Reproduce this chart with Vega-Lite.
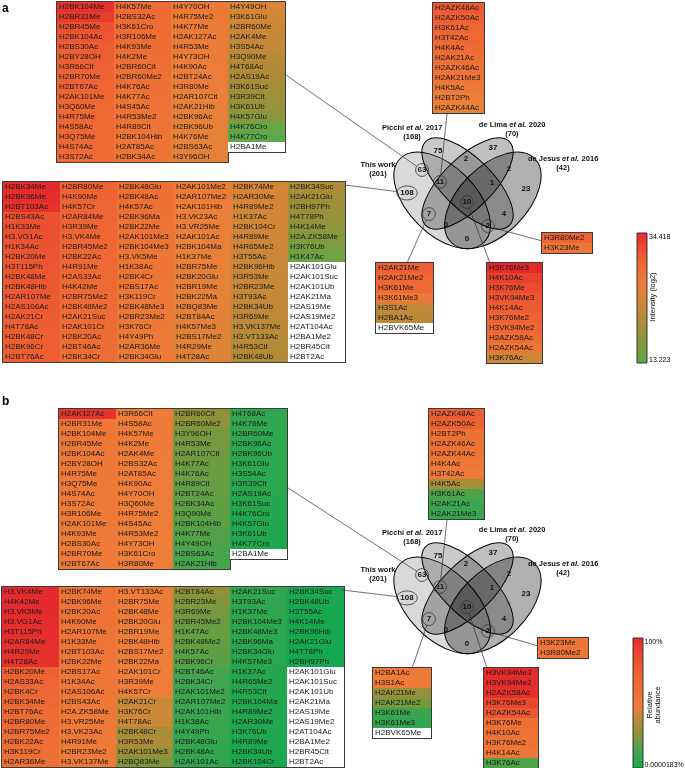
{
"$schema":"https://vega.github.io/schema/vega-lite/v6.json",
"width":685,"height":768,"autosize":"none","padding":0,"background":"white",
"config":{"view":{"stroke":null},"text":{"font":"Liberation Sans"},"legend":{"labelFont":"Liberation Sans","titleFont":"Liberation Sans"}},
"datasets":{
"A":[
{"t":"top","c":0,"r":0,"m":"H2BK104Me","v":33.8},{"t":"top","c":0,"r":1,"m":"H2BR31Me","v":33.2},{"t":"top","c":0,"r":2,"m":"H2BR45Me","v":31.5},{"t":"top","c":0,"r":3,"m":"H2BK104Ac","v":31.0},{"t":"top","c":0,"r":4,"m":"H2BS30Ac","v":30.6},{"t":"top","c":0,"r":5,"m":"H2BY28OH","v":30.3},{"t":"top","c":0,"r":6,"m":"H3R66Cit","v":30.1},{"t":"top","c":0,"r":7,"m":"H2BR70Me","v":29.9},{"t":"top","c":0,"r":8,"m":"H2BT67Ac","v":29.7},{"t":"top","c":0,"r":9,"m":"H2AK101Me","v":29.5},{"t":"top","c":0,"r":10,"m":"H3Q60Me","v":29.4},{"t":"top","c":0,"r":11,"m":"H4R75Me","v":29.3},{"t":"top","c":0,"r":12,"m":"H4S58Ac","v":29.2},{"t":"top","c":0,"r":13,"m":"H3Q75Me","v":29.1},{"t":"top","c":0,"r":14,"m":"H4S74Ac","v":29.0},{"t":"top","c":0,"r":15,"m":"H3S72Ac","v":28.9},
{"t":"top","c":1,"r":0,"m":"H4K57Me","v":28.8},{"t":"top","c":1,"r":1,"m":"H2BS32Ac","v":28.7},{"t":"top","c":1,"r":2,"m":"H3K61Cro","v":28.6},{"t":"top","c":1,"r":3,"m":"H3R106Me","v":28.5},{"t":"top","c":1,"r":4,"m":"H4K93Me","v":28.4},{"t":"top","c":1,"r":5,"m":"H4K2Me","v":28.3},{"t":"top","c":1,"r":6,"m":"H2BR60Cit","v":28.2},{"t":"top","c":1,"r":7,"m":"H2BR60Me2","v":28.1},{"t":"top","c":1,"r":8,"m":"H4K76Ac","v":28.0},{"t":"top","c":1,"r":9,"m":"H4K77Ac","v":27.9},{"t":"top","c":1,"r":10,"m":"H4S45Ac","v":27.8},{"t":"top","c":1,"r":11,"m":"H4R53Me2","v":27.7},{"t":"top","c":1,"r":12,"m":"H4R89Cit","v":27.6},{"t":"top","c":1,"r":13,"m":"H2BK104Hib","v":27.5},{"t":"top","c":1,"r":14,"m":"H2AT85Ac","v":27.4},{"t":"top","c":1,"r":15,"m":"H2BK34Ac","v":27.3},
{"t":"top","c":2,"r":0,"m":"H4Y70OH","v":27.0},{"t":"top","c":2,"r":1,"m":"H4R75Me2","v":26.9},{"t":"top","c":2,"r":2,"m":"H4K77Me","v":26.7},{"t":"top","c":2,"r":3,"m":"H2AK127Ac","v":26.6},{"t":"top","c":2,"r":4,"m":"H4R53Me","v":26.5},{"t":"top","c":2,"r":5,"m":"H4Y73OH","v":26.3},{"t":"top","c":2,"r":6,"m":"H4K90Ac","v":26.2},{"t":"top","c":2,"r":7,"m":"H2BT24Ac","v":26.1},{"t":"top","c":2,"r":8,"m":"H3R80Me","v":25.9},{"t":"top","c":2,"r":9,"m":"H2AR107Cit","v":25.8},{"t":"top","c":2,"r":10,"m":"H2AK21Hib","v":25.7},{"t":"top","c":2,"r":11,"m":"H2BK96Ac","v":25.5},{"t":"top","c":2,"r":12,"m":"H2BK96Ub","v":25.4},{"t":"top","c":2,"r":13,"m":"H4K76Me","v":25.3},{"t":"top","c":2,"r":14,"m":"H2BS63Ac","v":25.1},{"t":"top","c":2,"r":15,"m":"H3Y96OH","v":25.0},
{"t":"top","c":3,"r":0,"m":"H4Y49OH","v":23.8},{"t":"top","c":3,"r":1,"m":"H3K61Glu","v":23.2},{"t":"top","c":3,"r":2,"m":"H2BR60Me","v":22.6},{"t":"top","c":3,"r":3,"m":"H2AK4Me","v":22.0},{"t":"top","c":3,"r":4,"m":"H3S54Ac","v":21.5},{"t":"top","c":3,"r":5,"m":"H3Q90Me","v":21.0},{"t":"top","c":3,"r":6,"m":"H4T68Ac","v":20.4},{"t":"top","c":3,"r":7,"m":"H2AS19Ac","v":19.8},{"t":"top","c":3,"r":8,"m":"H3K61Suc","v":19.2},{"t":"top","c":3,"r":9,"m":"H3R39Cit","v":18.6},{"t":"top","c":3,"r":10,"m":"H3K61Ub","v":17.8},{"t":"top","c":3,"r":11,"m":"H4K57Glu","v":16.8},{"t":"top","c":3,"r":12,"m":"H4K76Cro","v":14.0},{"t":"top","c":3,"r":13,"m":"H4K77Cro","v":13.5},{"t":"top","c":3,"r":14,"m":"H2BA1Me","v":null},
{"t":"ll","c":0,"r":0,"m":"H2BK34Me","v":34.2},{"t":"ll","c":0,"r":1,"m":"H2BK96Me","v":34.0},{"t":"ll","c":0,"r":2,"m":"H2BT103Ac","v":33.8},{"t":"ll","c":0,"r":3,"m":"H2BS43Ac","v":31.6},{"t":"ll","c":0,"r":4,"m":"H1K33Me","v":31.5},{"t":"ll","c":0,"r":5,"m":"H3.VG1Ac","v":31.4},{"t":"ll","c":0,"r":6,"m":"H1K34Ac","v":31.3},{"t":"ll","c":0,"r":7,"m":"H2BK20Me","v":31.2},{"t":"ll","c":0,"r":8,"m":"H3T115Ph","v":31.1},{"t":"ll","c":0,"r":9,"m":"H2BK48Me","v":31.0},{"t":"ll","c":0,"r":10,"m":"H2BK48Hib","v":30.9},{"t":"ll","c":0,"r":11,"m":"H2AR107Me","v":30.8},{"t":"ll","c":0,"r":12,"m":"H2AS106Ac","v":30.7},{"t":"ll","c":0,"r":13,"m":"H2AK21Cr","v":30.6},{"t":"ll","c":0,"r":14,"m":"H4T78Ac","v":30.5},{"t":"ll","c":0,"r":15,"m":"H2BK48Cr","v":30.4},{"t":"ll","c":0,"r":16,"m":"H2BK96Cr","v":30.3},{"t":"ll","c":0,"r":17,"m":"H2BT76Ac","v":30.2},
{"t":"ll","c":1,"r":0,"m":"H2BR80Me","v":30.0},{"t":"ll","c":1,"r":1,"m":"H4K90Me","v":29.9},{"t":"ll","c":1,"r":2,"m":"H4K57Cr","v":29.8},{"t":"ll","c":1,"r":3,"m":"H2AR84Me","v":29.7},{"t":"ll","c":1,"r":4,"m":"H3R39Me","v":29.6},{"t":"ll","c":1,"r":5,"m":"H3.VK4Me","v":29.5},{"t":"ll","c":1,"r":6,"m":"H2BR45Me2","v":29.4},{"t":"ll","c":1,"r":7,"m":"H2BK22Ac","v":29.3},{"t":"ll","c":1,"r":8,"m":"H4R91Me","v":29.2},{"t":"ll","c":1,"r":9,"m":"H2AS33Ac","v":29.1},{"t":"ll","c":1,"r":10,"m":"H4K42Me","v":29.0},{"t":"ll","c":1,"r":11,"m":"H2BR75Me2","v":28.9},{"t":"ll","c":1,"r":12,"m":"H2BK48Me2","v":28.8},{"t":"ll","c":1,"r":13,"m":"H2AK21Suc","v":28.7},{"t":"ll","c":1,"r":14,"m":"H2AK101Cr","v":28.6},{"t":"ll","c":1,"r":15,"m":"H2BK20Ac","v":28.5},{"t":"ll","c":1,"r":16,"m":"H2BT46Ac","v":28.4},{"t":"ll","c":1,"r":17,"m":"H2BK34Cr","v":28.3},
{"t":"ll","c":2,"r":0,"m":"H2BK48Glu","v":28.2},{"t":"ll","c":2,"r":1,"m":"H2BK48Ac","v":28.1},{"t":"ll","c":2,"r":2,"m":"H4K57Ac","v":28.0},{"t":"ll","c":2,"r":3,"m":"H2BK96Ma","v":27.9},{"t":"ll","c":2,"r":4,"m":"H2BK22Me","v":27.8},{"t":"ll","c":2,"r":5,"m":"H2AK101Me3","v":27.7},{"t":"ll","c":2,"r":6,"m":"H2BK104Me3","v":27.6},{"t":"ll","c":2,"r":7,"m":"H3.VK5Me","v":27.5},{"t":"ll","c":2,"r":8,"m":"H1K38Ac","v":27.4},{"t":"ll","c":2,"r":9,"m":"H2BK4Cr","v":27.3},{"t":"ll","c":2,"r":10,"m":"H2BS17Ac","v":27.2},{"t":"ll","c":2,"r":11,"m":"H3K119Cr","v":27.1},{"t":"ll","c":2,"r":12,"m":"H2BK48Me3","v":27.0},{"t":"ll","c":2,"r":13,"m":"H2BR23Me2","v":26.9},{"t":"ll","c":2,"r":14,"m":"H3K76Cr","v":26.8},{"t":"ll","c":2,"r":15,"m":"H4Y49Ph","v":26.7},{"t":"ll","c":2,"r":16,"m":"H2AR36Me","v":26.6},{"t":"ll","c":2,"r":17,"m":"H2BK34Glu","v":26.5},
{"t":"ll","c":3,"r":0,"m":"H2AK101Me2","v":26.4},{"t":"ll","c":3,"r":1,"m":"H2AR107Me2","v":26.3},{"t":"ll","c":3,"r":2,"m":"H2AK101Hib","v":26.2},{"t":"ll","c":3,"r":3,"m":"H3.VK23Ac","v":26.0},{"t":"ll","c":3,"r":4,"m":"H3.VR25Me","v":25.9},{"t":"ll","c":3,"r":5,"m":"H2AK101Ac","v":25.8},{"t":"ll","c":3,"r":6,"m":"H2BK104Ma","v":25.7},{"t":"ll","c":3,"r":7,"m":"H1K37Me","v":25.6},{"t":"ll","c":3,"r":8,"m":"H2BR75Me","v":25.5},{"t":"ll","c":3,"r":9,"m":"H2BK20Glu","v":25.3},{"t":"ll","c":3,"r":10,"m":"H2BR19Me","v":25.2},{"t":"ll","c":3,"r":11,"m":"H2BK22Ma","v":25.1},{"t":"ll","c":3,"r":12,"m":"H2BQ83Me","v":25.0},{"t":"ll","c":3,"r":13,"m":"H2BT84Ac","v":24.9},{"t":"ll","c":3,"r":14,"m":"H4K57Me3","v":24.8},{"t":"ll","c":3,"r":15,"m":"H2BS17Me2","v":24.7},{"t":"ll","c":3,"r":16,"m":"H4R29Me","v":24.6},{"t":"ll","c":3,"r":17,"m":"H4T28Ac","v":24.5},
{"t":"ll","c":4,"r":0,"m":"H2BK74Me","v":23.8},{"t":"ll","c":4,"r":1,"m":"H2AR30Me","v":23.6},{"t":"ll","c":4,"r":2,"m":"H4R89Me2","v":23.4},{"t":"ll","c":4,"r":3,"m":"H1K37Ac","v":23.2},{"t":"ll","c":4,"r":4,"m":"H2BK104Cr","v":23.0},{"t":"ll","c":4,"r":5,"m":"H4R89Me","v":22.8},{"t":"ll","c":4,"r":6,"m":"H4R65Me2","v":22.6},{"t":"ll","c":4,"r":7,"m":"H3T55Ac","v":22.4},{"t":"ll","c":4,"r":8,"m":"H2BK96Hib","v":22.2},{"t":"ll","c":4,"r":9,"m":"H3R53Me","v":22.0},{"t":"ll","c":4,"r":10,"m":"H2BR23Me","v":21.8},{"t":"ll","c":4,"r":11,"m":"H3T93Ac","v":21.6},{"t":"ll","c":4,"r":12,"m":"H2BK34Ub","v":21.4},{"t":"ll","c":4,"r":13,"m":"H3R69Me","v":21.2},{"t":"ll","c":4,"r":14,"m":"H3.VK137Me","v":21.0},{"t":"ll","c":4,"r":15,"m":"H3.VT133Ac","v":20.8},{"t":"ll","c":4,"r":16,"m":"H4R53Cit","v":20.6},{"t":"ll","c":4,"r":17,"m":"H2BK48Ub","v":20.4},
{"t":"ll","c":5,"r":0,"m":"H2BK34Suc","v":19.8},{"t":"ll","c":5,"r":1,"m":"H2AK21Glu","v":19.2},{"t":"ll","c":5,"r":2,"m":"H2BH97Ph","v":18.5},{"t":"ll","c":5,"r":3,"m":"H4T78Ph","v":17.8},{"t":"ll","c":5,"r":4,"m":"H4K14Me","v":17.0},{"t":"ll","c":5,"r":5,"m":"H2A.ZK58Me","v":16.2},{"t":"ll","c":5,"r":6,"m":"H3K76Ub","v":15.4},{"t":"ll","c":5,"r":7,"m":"H1K47Ac","v":14.6},{"t":"ll","c":5,"r":8,"m":"H2AK101Glu","v":null},{"t":"ll","c":5,"r":9,"m":"H2AK101Suc","v":null},{"t":"ll","c":5,"r":10,"m":"H2AK101Ub","v":null},{"t":"ll","c":5,"r":11,"m":"H2AK21Ma","v":null},{"t":"ll","c":5,"r":12,"m":"H2AS19Me","v":null},{"t":"ll","c":5,"r":13,"m":"H2AS19Me2","v":null},{"t":"ll","c":5,"r":14,"m":"H2AT104Ac","v":null},{"t":"ll","c":5,"r":15,"m":"H2BA1Me2","v":null},{"t":"ll","c":5,"r":16,"m":"H2BR45Cit","v":null},{"t":"ll","c":5,"r":17,"m":"H2BT2Ac","v":null},
{"t":"rt","c":0,"r":0,"m":"H2AZK48Ac","v":30.8},{"t":"rt","c":0,"r":1,"m":"H2AZK50Ac","v":30.3},{"t":"rt","c":0,"r":2,"m":"H3K61Ac","v":29.8},{"t":"rt","c":0,"r":3,"m":"H3T42Ac","v":29.3},{"t":"rt","c":0,"r":4,"m":"H4K4Ac","v":28.8},{"t":"rt","c":0,"r":5,"m":"H2AK21Ac","v":28.3},{"t":"rt","c":0,"r":6,"m":"H2AZK46Ac","v":27.8},{"t":"rt","c":0,"r":7,"m":"H2AK21Me3","v":27.3},{"t":"rt","c":0,"r":8,"m":"H4K5Ac","v":26.8},{"t":"rt","c":0,"r":9,"m":"H2BT2Ph","v":26.2},{"t":"rt","c":0,"r":10,"m":"H2AZK44Ac","v":25.5},
{"t":"s7","c":0,"r":0,"m":"H2AK21Me","v":30.2},{"t":"s7","c":0,"r":1,"m":"H2AK21Me2","v":29.3},{"t":"s7","c":0,"r":2,"m":"H3K61Me","v":29.0},{"t":"s7","c":0,"r":3,"m":"H3K61Me3","v":27.0},{"t":"s7","c":0,"r":4,"m":"H3S1Ac","v":21.5},{"t":"s7","c":0,"r":5,"m":"H2BA1Ac","v":21.0},{"t":"s7","c":0,"r":6,"m":"H2BVK65Me","v":null},
{"t":"s10","c":0,"r":0,"m":"H3K76Me3","v":34.3},{"t":"s10","c":0,"r":1,"m":"H4K10Ac","v":32.8},{"t":"s10","c":0,"r":2,"m":"H3K76Me","v":32.0},{"t":"s10","c":0,"r":3,"m":"H3VK94Me3","v":31.2},{"t":"s10","c":0,"r":4,"m":"H4K14Ac","v":30.6},{"t":"s10","c":0,"r":5,"m":"H3K76Me2","v":30.0},{"t":"s10","c":0,"r":6,"m":"H3VK94Me2","v":29.2},{"t":"s10","c":0,"r":7,"m":"H2AZK58Ac","v":28.4},{"t":"s10","c":0,"r":8,"m":"H2AZK54Ac","v":27.5},{"t":"s10","c":0,"r":9,"m":"H3K76Ac","v":22.5},
{"t":"s2","c":0,"r":0,"m":"H3R80Me2","v":29.8},{"t":"s2","c":0,"r":1,"m":"H3K23Me","v":27.0}
],
"B":[
{"t":"top","c":0,"r":0,"m":"H2AK127Ac","v":50},{"t":"top","c":0,"r":1,"m":"H2BR31Me","v":0.08},{"t":"top","c":0,"r":2,"m":"H2BK104Me","v":0.075},{"t":"top","c":0,"r":3,"m":"H2BR45Me","v":0.07},{"t":"top","c":0,"r":4,"m":"H2BK104Ac","v":0.067},{"t":"top","c":0,"r":5,"m":"H2BY28OH","v":0.064},{"t":"top","c":0,"r":6,"m":"H4R75Me","v":0.061},{"t":"top","c":0,"r":7,"m":"H3Q75Me","v":0.058},{"t":"top","c":0,"r":8,"m":"H4S74Ac","v":0.056},{"t":"top","c":0,"r":9,"m":"H3S72Ac","v":0.054},{"t":"top","c":0,"r":10,"m":"H3R106Me","v":0.052},{"t":"top","c":0,"r":11,"m":"H2AK101Me","v":0.05},{"t":"top","c":0,"r":12,"m":"H4K93Me","v":0.048},{"t":"top","c":0,"r":13,"m":"H2BS30Ac","v":0.046},{"t":"top","c":0,"r":14,"m":"H2BR70Me","v":0.044},{"t":"top","c":0,"r":15,"m":"H2BT67Ac","v":0.042},
{"t":"top","c":1,"r":0,"m":"H3R66Cit","v":0.041},{"t":"top","c":1,"r":1,"m":"H4S58Ac","v":0.040},{"t":"top","c":1,"r":2,"m":"H4K57Me","v":0.039},{"t":"top","c":1,"r":3,"m":"H4K2Me","v":0.038},{"t":"top","c":1,"r":4,"m":"H2AK4Me","v":0.037},{"t":"top","c":1,"r":5,"m":"H2BS32Ac","v":0.036},{"t":"top","c":1,"r":6,"m":"H2AT85Ac","v":0.035},{"t":"top","c":1,"r":7,"m":"H4K90Ac","v":0.0345},{"t":"top","c":1,"r":8,"m":"H4Y70OH","v":0.034},{"t":"top","c":1,"r":9,"m":"H3Q60Me","v":0.0335},{"t":"top","c":1,"r":10,"m":"H4R75Me2","v":0.033},{"t":"top","c":1,"r":11,"m":"H4S45Ac","v":0.0325},{"t":"top","c":1,"r":12,"m":"H4R53Me2","v":0.032},{"t":"top","c":1,"r":13,"m":"H4Y73OH","v":0.0315},{"t":"top","c":1,"r":14,"m":"H3K61Cro","v":0.031},{"t":"top","c":1,"r":15,"m":"H3R80Me","v":0.0305},
{"t":"top","c":2,"r":0,"m":"H2BR60Cit","v":0.0013},{"t":"top","c":2,"r":1,"m":"H2BR60Me2","v":0.0011},{"t":"top","c":2,"r":2,"m":"H3Y96OH","v":0.0006},{"t":"top","c":2,"r":3,"m":"H4R53Me","v":0.00055},{"t":"top","c":2,"r":4,"m":"H2AR107Cit","v":0.0005},{"t":"top","c":2,"r":5,"m":"H4K77Ac","v":0.00045},{"t":"top","c":2,"r":6,"m":"H4K76Ac","v":0.0004},{"t":"top","c":2,"r":7,"m":"H4R89Cit","v":0.00032},{"t":"top","c":2,"r":8,"m":"H2BT24Ac","v":0.00028},{"t":"top","c":2,"r":9,"m":"H2BK34Ac","v":0.00025},{"t":"top","c":2,"r":10,"m":"H3Q90Me","v":0.00022},{"t":"top","c":2,"r":11,"m":"H2BK104Hib","v":0.0002},{"t":"top","c":2,"r":12,"m":"H4K77Me","v":0.00017},{"t":"top","c":2,"r":13,"m":"H4Y49OH","v":0.00015},{"t":"top","c":2,"r":14,"m":"H2BS63Ac","v":0.00013},{"t":"top","c":2,"r":15,"m":"H2AK21Hib","v":0.00012},
{"t":"top","c":3,"r":0,"m":"H4T68Ac","v":0.00005},{"t":"top","c":3,"r":1,"m":"H4K76Me","v":0.000048},{"t":"top","c":3,"r":2,"m":"H2BR60Me","v":0.000046},{"t":"top","c":3,"r":3,"m":"H2BK96Ac","v":0.000044},{"t":"top","c":3,"r":4,"m":"H2BK96Ub","v":0.000042},{"t":"top","c":3,"r":5,"m":"H3K61Glu","v":0.00004},{"t":"top","c":3,"r":6,"m":"H3S54Ac","v":0.000038},{"t":"top","c":3,"r":7,"m":"H3R39Cit","v":0.000036},{"t":"top","c":3,"r":8,"m":"H2AS19Ac","v":0.000034},{"t":"top","c":3,"r":9,"m":"H3K61Suc","v":0.000032},{"t":"top","c":3,"r":10,"m":"H4K76Cro","v":0.00003},{"t":"top","c":3,"r":11,"m":"H4K57Glu","v":0.000028},{"t":"top","c":3,"r":12,"m":"H3K61Ub","v":0.000026},{"t":"top","c":3,"r":13,"m":"H4K77Cro","v":0.000024},{"t":"top","c":3,"r":14,"m":"H2BA1Me","v":null},
{"t":"ll","c":0,"r":0,"m":"H3.VK4Me","v":95},{"t":"ll","c":0,"r":1,"m":"H4K42Me","v":90},{"t":"ll","c":0,"r":2,"m":"H3.VK5Me","v":85},{"t":"ll","c":0,"r":3,"m":"H3.VG1Ac","v":80},{"t":"ll","c":0,"r":4,"m":"H3T115Ph","v":75},{"t":"ll","c":0,"r":5,"m":"H2AR84Me","v":70},{"t":"ll","c":0,"r":6,"m":"H4R29Me","v":65},{"t":"ll","c":0,"r":7,"m":"H4T28Ac","v":60},{"t":"ll","c":0,"r":8,"m":"H2BK20Me","v":1.2},{"t":"ll","c":0,"r":9,"m":"H2AS33Ac","v":0.8},{"t":"ll","c":0,"r":10,"m":"H2BK4Cr","v":0.6},{"t":"ll","c":0,"r":11,"m":"H2BK34Me","v":0.5},{"t":"ll","c":0,"r":12,"m":"H2BT76Ac","v":0.4},{"t":"ll","c":0,"r":13,"m":"H2BR80Me","v":0.33},{"t":"ll","c":0,"r":14,"m":"H2BR75Me2","v":0.28},{"t":"ll","c":0,"r":15,"m":"H2BK22Ac","v":0.24},{"t":"ll","c":0,"r":16,"m":"H3K119Cr","v":0.2},{"t":"ll","c":0,"r":17,"m":"H2AR36Me","v":0.17},
{"t":"ll","c":1,"r":0,"m":"H2BK74Me","v":0.15},{"t":"ll","c":1,"r":1,"m":"H2BK96Me","v":0.14},{"t":"ll","c":1,"r":2,"m":"H2BK20Ac","v":0.13},{"t":"ll","c":1,"r":3,"m":"H4K90Me","v":0.12},{"t":"ll","c":1,"r":4,"m":"H2AR107Me","v":0.11},{"t":"ll","c":1,"r":5,"m":"H1K33Me","v":0.1},{"t":"ll","c":1,"r":6,"m":"H2BT103Ac","v":0.095},{"t":"ll","c":1,"r":7,"m":"H2BK22Me","v":0.09},{"t":"ll","c":1,"r":8,"m":"H2BS17Ac","v":0.085},{"t":"ll","c":1,"r":9,"m":"H1K34Ac","v":0.08},{"t":"ll","c":1,"r":10,"m":"H2AS106Ac","v":0.075},{"t":"ll","c":1,"r":11,"m":"H2BS43Ac","v":0.07},{"t":"ll","c":1,"r":12,"m":"H2A.ZK58Me","v":0.065},{"t":"ll","c":1,"r":13,"m":"H3.VR25Me","v":0.06},{"t":"ll","c":1,"r":14,"m":"H3.VK23Ac","v":0.056},{"t":"ll","c":1,"r":15,"m":"H4R91Me","v":0.052},{"t":"ll","c":1,"r":16,"m":"H2BR23Me2","v":0.048},{"t":"ll","c":1,"r":17,"m":"H3.VK137Me","v":0.045},
{"t":"ll","c":2,"r":0,"m":"H3.VT133Ac","v":0.043},{"t":"ll","c":2,"r":1,"m":"H2BR75Me","v":0.041},{"t":"ll","c":2,"r":2,"m":"H2BK48Me","v":0.039},{"t":"ll","c":2,"r":3,"m":"H2BK20Glu","v":0.037},{"t":"ll","c":2,"r":4,"m":"H2BR19Me","v":0.035},{"t":"ll","c":2,"r":5,"m":"H2BK48Hib","v":0.034},{"t":"ll","c":2,"r":6,"m":"H2BS17Me2","v":0.033},{"t":"ll","c":2,"r":7,"m":"H2BK22Ma","v":0.032},{"t":"ll","c":2,"r":8,"m":"H2AK101Cr","v":0.031},{"t":"ll","c":2,"r":9,"m":"H3R39Me","v":0.0305},{"t":"ll","c":2,"r":10,"m":"H4K57Cr","v":0.03},{"t":"ll","c":2,"r":11,"m":"H2AK21Cr","v":0.008},{"t":"ll","c":2,"r":12,"m":"H3K76Cr","v":0.01},{"t":"ll","c":2,"r":13,"m":"H4T78Ac","v":0.0095},{"t":"ll","c":2,"r":14,"m":"H2BK48Cr","v":0.003},{"t":"ll","c":2,"r":15,"m":"H3R53Me","v":0.004},{"t":"ll","c":2,"r":16,"m":"H2AK101Me3","v":0.0018},{"t":"ll","c":2,"r":17,"m":"H2BQ83Me","v":0.0009},
{"t":"ll","c":3,"r":0,"m":"H2BT84Ac","v":0.0012},{"t":"ll","c":3,"r":1,"m":"H2BR23Me","v":0.0008},{"t":"ll","c":3,"r":2,"m":"H3R69Me","v":0.0006},{"t":"ll","c":3,"r":3,"m":"H2BR45Me2","v":0.00045},{"t":"ll","c":3,"r":4,"m":"H1K47Ac","v":0.00035},{"t":"ll","c":3,"r":5,"m":"H2BK48Me2","v":0.0003},{"t":"ll","c":3,"r":6,"m":"H4K57Ac","v":0.00025},{"t":"ll","c":3,"r":7,"m":"H2BK96Cr","v":0.00022},{"t":"ll","c":3,"r":8,"m":"H2BT46Ac","v":0.00012},{"t":"ll","c":3,"r":9,"m":"H2BK34Cr","v":0.00011},{"t":"ll","c":3,"r":10,"m":"H2AK101Me2","v":0.0001},{"t":"ll","c":3,"r":11,"m":"H2AR107Me2","v":0.00009},{"t":"ll","c":3,"r":12,"m":"H2AK101Hib","v":0.00008},{"t":"ll","c":3,"r":13,"m":"H1K38Ac","v":0.00007},{"t":"ll","c":3,"r":14,"m":"H4Y49Ph","v":0.000065},{"t":"ll","c":3,"r":15,"m":"H2BK48Glu","v":0.00006},{"t":"ll","c":3,"r":16,"m":"H2BK48Ac","v":0.000055},{"t":"ll","c":3,"r":17,"m":"H2AK101Ac","v":0.00005},
{"t":"ll","c":4,"r":0,"m":"H2AK21Suc","v":0.000048},{"t":"ll","c":4,"r":1,"m":"H3T93Ac","v":0.000046},{"t":"ll","c":4,"r":2,"m":"H1K37Me","v":0.000044},{"t":"ll","c":4,"r":3,"m":"H2BK104Me3","v":0.000042},{"t":"ll","c":4,"r":4,"m":"H2BK48Me3","v":0.00004},{"t":"ll","c":4,"r":5,"m":"H2BK96Ma","v":0.000038},{"t":"ll","c":4,"r":6,"m":"H2BK34Glu","v":0.000036},{"t":"ll","c":4,"r":7,"m":"H4K57Me3","v":0.000034},{"t":"ll","c":4,"r":8,"m":"H1K37Ac","v":0.000032},{"t":"ll","c":4,"r":9,"m":"H4R65Me2","v":0.00003},{"t":"ll","c":4,"r":10,"m":"H4R53Cit","v":0.000029},{"t":"ll","c":4,"r":11,"m":"H2BK104Ma","v":0.000028},{"t":"ll","c":4,"r":12,"m":"H4R89Me2","v":0.000027},{"t":"ll","c":4,"r":13,"m":"H2AR30Me","v":0.000026},{"t":"ll","c":4,"r":14,"m":"H3K76Ub","v":0.000025},{"t":"ll","c":4,"r":15,"m":"H4R89Me","v":0.000024},{"t":"ll","c":4,"r":16,"m":"H2BK34Ub","v":0.000023},{"t":"ll","c":4,"r":17,"m":"H2BK104Cr","v":0.000022},
{"t":"ll","c":5,"r":0,"m":"H2BK34Suc","v":0.000021},{"t":"ll","c":5,"r":1,"m":"H2BK48Ub","v":0.0000205},{"t":"ll","c":5,"r":2,"m":"H3T55Ac","v":0.00002},{"t":"ll","c":5,"r":3,"m":"H4K14Me","v":0.0000198},{"t":"ll","c":5,"r":4,"m":"H2BK96Hib","v":0.0000195},{"t":"ll","c":5,"r":5,"m":"H2AK21Glu","v":0.0000192},{"t":"ll","c":5,"r":6,"m":"H4T78Ph","v":0.000019},{"t":"ll","c":5,"r":7,"m":"H2BH97Ph","v":0.0000185},{"t":"ll","c":5,"r":8,"m":"H2AK101Glu","v":null},{"t":"ll","c":5,"r":9,"m":"H2AK101Suc","v":null},{"t":"ll","c":5,"r":10,"m":"H2AK101Ub","v":null},{"t":"ll","c":5,"r":11,"m":"H2AK21Ma","v":null},{"t":"ll","c":5,"r":12,"m":"H2AS19Me","v":null},{"t":"ll","c":5,"r":13,"m":"H2AS19Me2","v":null},{"t":"ll","c":5,"r":14,"m":"H2AT104Ac","v":null},{"t":"ll","c":5,"r":15,"m":"H2BA1Me2","v":null},{"t":"ll","c":5,"r":16,"m":"H2BR45Cit","v":null},{"t":"ll","c":5,"r":17,"m":"H2BT2Ac","v":null},
{"t":"rt","c":0,"r":0,"m":"H2AZK48Ac","v":2.0},{"t":"rt","c":0,"r":1,"m":"H2AZK50Ac","v":1.2},{"t":"rt","c":0,"r":2,"m":"H2BT2Ph","v":0.2},{"t":"rt","c":0,"r":3,"m":"H2AZK46Ac","v":0.15},{"t":"rt","c":0,"r":4,"m":"H2AZK44Ac","v":0.12},{"t":"rt","c":0,"r":5,"m":"H4K4Ac","v":0.09},{"t":"rt","c":0,"r":6,"m":"H3T42Ac","v":0.06},{"t":"rt","c":0,"r":7,"m":"H4K5Ac","v":0.003},{"t":"rt","c":0,"r":8,"m":"H3K61Ac","v":0.00015},{"t":"rt","c":0,"r":9,"m":"H2AK21Ac","v":0.00009},{"t":"rt","c":0,"r":10,"m":"H2AK21Me3","v":0.00007},
{"t":"s7","c":0,"r":0,"m":"H2BA1Ac","v":0.06},{"t":"s7","c":0,"r":1,"m":"H3S1Ac","v":0.05},{"t":"s7","c":0,"r":2,"m":"H2AK21Me","v":0.0015},{"t":"s7","c":0,"r":3,"m":"H2AK21Me2","v":0.0006},{"t":"s7","c":0,"r":4,"m":"H3K61Me","v":0.00008},{"t":"s7","c":0,"r":5,"m":"H3K61Me3","v":0.00005},{"t":"s7","c":0,"r":6,"m":"H2BVK65Me","v":null},
{"t":"s10","c":0,"r":0,"m":"H3VK94Me3","v":95},{"t":"s10","c":0,"r":1,"m":"H3VK94Me2","v":85},{"t":"s10","c":0,"r":2,"m":"H2AZK58Ac","v":70},{"t":"s10","c":0,"r":3,"m":"H3K76Me3","v":15},{"t":"s10","c":0,"r":4,"m":"H2AZK54Ac","v":4},{"t":"s10","c":0,"r":5,"m":"H3K76Me","v":0.2},{"t":"s10","c":0,"r":6,"m":"H4K10Ac","v":0.15},{"t":"s10","c":0,"r":7,"m":"H3K76Me2","v":0.12},{"t":"s10","c":0,"r":8,"m":"H4K14Ac","v":0.08},{"t":"s10","c":0,"r":9,"m":"H3K76Ac","v":0.00015},
{"t":"s2","c":0,"r":0,"m":"H3K23Me","v":0.1},{"t":"s2","c":0,"r":1,"m":"H3R80Me2","v":0.08}
],
"sets":[{"s":"This work","u":0.35,"v":0.53},{"s":"Picchi","u":0.5,"v":0.43},{"s":"de Lima","u":0.5,"v":0.43},{"s":"de Jesus","u":0.65,"v":0.53}],
"nums":[{"n":"75","u":0.325,"v":0.238,"k":false},{"n":"37","u":0.651,"v":0.22,"k":false},{"n":"2","u":0.491,"v":0.285,"k":false},{"n":"2","u":0.746,"v":0.344,"k":false},{"n":"63","u":0.231,"v":0.35,"k":true},{"n":"11","u":0.337,"v":0.421,"k":true},{"n":"1","u":0.645,"v":0.427,"k":false},{"n":"23","u":0.846,"v":0.463,"k":false},{"n":"108","u":0.142,"v":0.486,"k":true},{"n":"10","u":0.497,"v":0.54,"k":true},{"n":"7","u":0.272,"v":0.611,"k":true},{"n":"4","u":0.716,"v":0.611,"k":false},{"n":"0","u":0.373,"v":0.676,"k":false},{"n":"2","u":0.621,"v":0.682,"k":true},{"n":"0","u":0.497,"v":0.758,"k":false}],
"titles":[{"name":"This work","etal":"","year":"","cnt":"(201)","ua":0.074,"uc":-0.03,"v":0.321,"vc":0.374},{"name":"Picchi","etal":"et al.","year":"2017","cnt":"(168)","ua":0.125,"uc":0.172,"v":0.102,"vc":0.155},{"name":"de Lima","etal":"et al.","year":"2020","cnt":"(70)","ua":0.735,"uc":0.763,"v":0.084,"vc":0.138},{"name":"de Jesus","etal":"et al.","year":"2016","cnt":"(42)","ua":1.048,"uc":1.065,"v":0.285,"vc":0.339}],
"linesA":[{"u":-0.574,"v":-0.212,"u2":0.199,"v2":0.328},{"u":0.379,"v":0.013,"u2":0.341,"v2":0.383},{"u":-0.225,"v":0.439,"u2":0.083,"v2":0.478},{"u":0.256,"v":0.646,"u2":0.142,"v2":0.901},{"u":0.511,"v":0.576,"u2":0.633,"v2":0.901},{"u":0.658,"v":0.694,"u2":0.941,"v2":0.77}],
"linesB":[{"u":-0.562,"v":-0.165,"u2":0.199,"v2":0.328},{"u":0.379,"v":0.019,"u2":0.341,"v2":0.383},{"u":-0.243,"v":0.439,"u2":0.083,"v2":0.478},{"u":0.26,"v":0.647,"u2":0.172,"v2":0.901},{"u":0.509,"v":0.576,"u2":0.615,"v2":0.901},{"u":0.658,"v":0.694,"u2":0.917,"v2":0.77}]
},
"layer":[
{"data":{"name":"A"},
 "encoding":{"fill":{"field":"v","type":"quantitative","scale":{"domain":[13.223,16,19,22,26,30,34.418],"range":["#57ab4e","#7f9a40","#a28d3a","#c8883a","#ec7f39","#ee6234","#e4262b"],"zero":false,"nice":false,"clamp":true},
   "legend":{"orient":"none","legendX":637,"legendY":233,"direction":"vertical","gradientLength":130,"gradientThickness":10,"values":[13.223,34.418],"format":".3f","title":null,"labelFontSize":7,"labelOffset":2,"gradientStrokeColor":"#333333","gradientStrokeWidth":1,"padding":0}}},
 "resolve":{"scale":{"x":"independent","y":"independent"}},
 "layer":[
  {"transform":[{"filter":"datum.t=='top'"}],
   "encoding":{"x":{"field":"c","type":"ordinal","axis":null,"scale":{"domain":[0,1,2,3],"range":[57,285],"paddingInner":0,"paddingOuter":0}},"y":{"field":"r","type":"ordinal","axis":null,"scale":{"domain":[0,1,2,3,4,5,6,7,8,9,10,11,12,13,14,15],"range":[2,162],"paddingInner":0,"paddingOuter":0}}},
   "layer":[
    {"mark":{"type":"rect","stroke":"#3a3a3a","strokeWidth":2},"encoding":{"fill":{"value":"white"}}},
    {"mark":{"type":"rect"},"encoding":{"fill":{"value":"white"}}},
    {"transform":[{"filter":"isValid(datum.v)"}],"mark":{"type":"rect"}},
    {"mark":{"type":"text","align":"left","baseline":"middle","dx":2,"fontSize":8},"encoding":{"text":{"field":"m"},"fill":{"value":"#1a1a1a"},"x":{"field":"c","type":"ordinal","bandPosition":0,"axis":null}}}]},
  {"transform":[{"filter":"datum.t=='ll'"}],
   "encoding":{"x":{"field":"c","type":"ordinal","axis":null,"scale":{"domain":[0,1,2,3,4,5],"range":[3,345],"paddingInner":0,"paddingOuter":0}},"y":{"field":"r","type":"ordinal","axis":null,"scale":{"domain":[0,1,2,3,4,5,6,7,8,9,10,11,12,13,14,15,16,17],"range":[182,362],"paddingInner":0,"paddingOuter":0}}},
   "layer":[
    {"mark":{"type":"rect","stroke":"#3a3a3a","strokeWidth":2},"encoding":{"fill":{"value":"white"}}},
    {"mark":{"type":"rect"},"encoding":{"fill":{"value":"white"}}},
    {"transform":[{"filter":"isValid(datum.v)"}],"mark":{"type":"rect"}},
    {"mark":{"type":"text","align":"left","baseline":"middle","dx":2,"fontSize":8},"encoding":{"text":{"field":"m"},"fill":{"value":"#1a1a1a"},"x":{"field":"c","type":"ordinal","bandPosition":0,"axis":null}}}]},
  {"transform":[{"filter":"datum.t=='rt'"}],
   "encoding":{"x":{"field":"c","type":"ordinal","axis":null,"scale":{"domain":[0],"range":[433,484],"paddingInner":0,"paddingOuter":0}},"y":{"field":"r","type":"ordinal","axis":null,"scale":{"domain":[0,1,2,3,4,5,6,7,8,9,10],"range":[3,113],"paddingInner":0,"paddingOuter":0}}},
   "layer":[
    {"mark":{"type":"rect","stroke":"#3a3a3a","strokeWidth":2},"encoding":{"fill":{"value":"white"}}},
    {"mark":{"type":"rect"},"encoding":{"fill":{"value":"white"}}},
    {"transform":[{"filter":"isValid(datum.v)"}],"mark":{"type":"rect"}},
    {"mark":{"type":"text","align":"left","baseline":"middle","dx":2,"fontSize":8},"encoding":{"text":{"field":"m"},"fill":{"value":"#1a1a1a"},"x":{"field":"c","type":"ordinal","bandPosition":0,"axis":null}}}]},
  {"transform":[{"filter":"datum.t=='s7'"}],
   "encoding":{"x":{"field":"c","type":"ordinal","axis":null,"scale":{"domain":[0],"range":[376,433],"paddingInner":0,"paddingOuter":0}},"y":{"field":"r","type":"ordinal","axis":null,"scale":{"domain":[0,1,2,3,4,5,6],"range":[263,333],"paddingInner":0,"paddingOuter":0}}},
   "layer":[
    {"mark":{"type":"rect","stroke":"#3a3a3a","strokeWidth":2},"encoding":{"fill":{"value":"white"}}},
    {"mark":{"type":"rect"},"encoding":{"fill":{"value":"white"}}},
    {"transform":[{"filter":"isValid(datum.v)"}],"mark":{"type":"rect"}},
    {"mark":{"type":"text","align":"left","baseline":"middle","dx":2,"fontSize":8},"encoding":{"text":{"field":"m"},"fill":{"value":"#1a1a1a"},"x":{"field":"c","type":"ordinal","bandPosition":0,"axis":null}}}]},
  {"transform":[{"filter":"datum.t=='s10'"}],
   "encoding":{"x":{"field":"c","type":"ordinal","axis":null,"scale":{"domain":[0],"range":[487,542],"paddingInner":0,"paddingOuter":0}},"y":{"field":"r","type":"ordinal","axis":null,"scale":{"domain":[0,1,2,3,4,5,6,7,8,9],"range":[263,363],"paddingInner":0,"paddingOuter":0}}},
   "layer":[
    {"mark":{"type":"rect","stroke":"#3a3a3a","strokeWidth":2},"encoding":{"fill":{"value":"white"}}},
    {"mark":{"type":"rect"},"encoding":{"fill":{"value":"white"}}},
    {"transform":[{"filter":"isValid(datum.v)"}],"mark":{"type":"rect"}},
    {"mark":{"type":"text","align":"left","baseline":"middle","dx":2,"fontSize":8},"encoding":{"text":{"field":"m"},"fill":{"value":"#1a1a1a"},"x":{"field":"c","type":"ordinal","bandPosition":0,"axis":null}}}]},
  {"transform":[{"filter":"datum.t=='s2'"}],
   "encoding":{"x":{"field":"c","type":"ordinal","axis":null,"scale":{"domain":[0],"range":[542,592],"paddingInner":0,"paddingOuter":0}},"y":{"field":"r","type":"ordinal","axis":null,"scale":{"domain":[0,1],"range":[233,253],"paddingInner":0,"paddingOuter":0}}},
   "layer":[
    {"mark":{"type":"rect","stroke":"#3a3a3a","strokeWidth":2},"encoding":{"fill":{"value":"white"}}},
    {"mark":{"type":"rect"},"encoding":{"fill":{"value":"white"}}},
    {"transform":[{"filter":"isValid(datum.v)"}],"mark":{"type":"rect"}},
    {"mark":{"type":"text","align":"left","baseline":"middle","dx":2,"fontSize":8},"encoding":{"text":{"field":"m"},"fill":{"value":"#1a1a1a"},"x":{"field":"c","type":"ordinal","bandPosition":0,"axis":null}}}]}
 ]},
{"data":{"name":"B"},
 "encoding":{"fill":{"field":"v","type":"quantitative","scale":{"type":"log","domain":[0.0000183,0.0001,0.0005,0.002,0.008,0.03,3,100],"range":["#12a84f","#3da54f","#6f9a42","#9d8e3b","#c5893a","#ee7e39","#ec5a33","#e5292d"],"nice":false,"clamp":true},
   "legend":{"orient":"none","legendX":633,"legendY":638,"direction":"vertical","gradientLength":130,"gradientThickness":10,"values":[0.0000183,100],"labelExpr":"datum.value > 1 ? '100%' : '0.0000183%'","title":null,"labelFontSize":7,"labelOffset":1.5,"gradientStrokeColor":"#333333","gradientStrokeWidth":1,"padding":0}}},
 "resolve":{"scale":{"x":"independent","y":"independent"}},
 "layer":[
  {"transform":[{"filter":"datum.t=='top'"}],
   "encoding":{"x":{"field":"c","type":"ordinal","axis":null,"scale":{"domain":[0,1,2,3],"range":[59,287],"paddingInner":0,"paddingOuter":0}},"y":{"field":"r","type":"ordinal","axis":null,"scale":{"domain":[0,1,2,3,4,5,6,7,8,9,10,11,12,13,14,15],"range":[409,569],"paddingInner":0,"paddingOuter":0}}},
   "layer":[
    {"mark":{"type":"rect","stroke":"#3a3a3a","strokeWidth":2},"encoding":{"fill":{"value":"white"}}},
    {"mark":{"type":"rect"},"encoding":{"fill":{"value":"white"}}},
    {"transform":[{"filter":"isValid(datum.v)"}],"mark":{"type":"rect"}},
    {"mark":{"type":"text","align":"left","baseline":"middle","dx":2,"fontSize":8},"encoding":{"text":{"field":"m"},"fill":{"value":"#1a1a1a"},"x":{"field":"c","type":"ordinal","bandPosition":0,"axis":null}}}]},
  {"transform":[{"filter":"datum.t=='ll'"}],
   "encoding":{"x":{"field":"c","type":"ordinal","axis":null,"scale":{"domain":[0,1,2,3,4,5],"range":[2,344],"paddingInner":0,"paddingOuter":0}},"y":{"field":"r","type":"ordinal","axis":null,"scale":{"domain":[0,1,2,3,4,5,6,7,8,9,10,11,12,13,14,15,16,17],"range":[587,767],"paddingInner":0,"paddingOuter":0}}},
   "layer":[
    {"mark":{"type":"rect","stroke":"#3a3a3a","strokeWidth":2},"encoding":{"fill":{"value":"white"}}},
    {"mark":{"type":"rect"},"encoding":{"fill":{"value":"white"}}},
    {"transform":[{"filter":"isValid(datum.v)"}],"mark":{"type":"rect"}},
    {"mark":{"type":"text","align":"left","baseline":"middle","dx":2,"fontSize":8},"encoding":{"text":{"field":"m"},"fill":{"value":"#1a1a1a"},"x":{"field":"c","type":"ordinal","bandPosition":0,"axis":null}}}]},
  {"transform":[{"filter":"datum.t=='rt'"}],
   "encoding":{"x":{"field":"c","type":"ordinal","axis":null,"scale":{"domain":[0],"range":[429,484],"paddingInner":0,"paddingOuter":0}},"y":{"field":"r","type":"ordinal","axis":null,"scale":{"domain":[0,1,2,3,4,5,6,7,8,9,10],"range":[409,519],"paddingInner":0,"paddingOuter":0}}},
   "layer":[
    {"mark":{"type":"rect","stroke":"#3a3a3a","strokeWidth":2},"encoding":{"fill":{"value":"white"}}},
    {"mark":{"type":"rect"},"encoding":{"fill":{"value":"white"}}},
    {"transform":[{"filter":"isValid(datum.v)"}],"mark":{"type":"rect"}},
    {"mark":{"type":"text","align":"left","baseline":"middle","dx":2,"fontSize":8},"encoding":{"text":{"field":"m"},"fill":{"value":"#1a1a1a"},"x":{"field":"c","type":"ordinal","bandPosition":0,"axis":null}}}]},
  {"transform":[{"filter":"datum.t=='s7'"}],
   "encoding":{"x":{"field":"c","type":"ordinal","axis":null,"scale":{"domain":[0],"range":[373,431],"paddingInner":0,"paddingOuter":0}},"y":{"field":"r","type":"ordinal","axis":null,"scale":{"domain":[0,1,2,3,4,5,6],"range":[668,738],"paddingInner":0,"paddingOuter":0}}},
   "layer":[
    {"mark":{"type":"rect","stroke":"#3a3a3a","strokeWidth":2},"encoding":{"fill":{"value":"white"}}},
    {"mark":{"type":"rect"},"encoding":{"fill":{"value":"white"}}},
    {"transform":[{"filter":"isValid(datum.v)"}],"mark":{"type":"rect"}},
    {"mark":{"type":"text","align":"left","baseline":"middle","dx":2,"fontSize":8},"encoding":{"text":{"field":"m"},"fill":{"value":"#1a1a1a"},"x":{"field":"c","type":"ordinal","bandPosition":0,"axis":null}}}]},
  {"transform":[{"filter":"datum.t=='s10'"}],
   "encoding":{"x":{"field":"c","type":"ordinal","axis":null,"scale":{"domain":[0],"range":[484,538],"paddingInner":0,"paddingOuter":0}},"y":{"field":"r","type":"ordinal","axis":null,"scale":{"domain":[0,1,2,3,4,5,6,7,8,9],"range":[668,768],"paddingInner":0,"paddingOuter":0}}},
   "layer":[
    {"mark":{"type":"rect","stroke":"#3a3a3a","strokeWidth":2},"encoding":{"fill":{"value":"white"}}},
    {"mark":{"type":"rect"},"encoding":{"fill":{"value":"white"}}},
    {"transform":[{"filter":"isValid(datum.v)"}],"mark":{"type":"rect"}},
    {"mark":{"type":"text","align":"left","baseline":"middle","dx":2,"fontSize":8},"encoding":{"text":{"field":"m"},"fill":{"value":"#1a1a1a"},"x":{"field":"c","type":"ordinal","bandPosition":0,"axis":null}}}]},
  {"transform":[{"filter":"datum.t=='s2'"}],
   "encoding":{"x":{"field":"c","type":"ordinal","axis":null,"scale":{"domain":[0],"range":[538,588],"paddingInner":0,"paddingOuter":0}},"y":{"field":"r","type":"ordinal","axis":null,"scale":{"domain":[0,1],"range":[638,658],"paddingInner":0,"paddingOuter":0}}},
   "layer":[
    {"mark":{"type":"rect","stroke":"#3a3a3a","strokeWidth":2},"encoding":{"fill":{"value":"white"}}},
    {"mark":{"type":"rect"},"encoding":{"fill":{"value":"white"}}},
    {"transform":[{"filter":"isValid(datum.v)"}],"mark":{"type":"rect"}},
    {"mark":{"type":"text","align":"left","baseline":"middle","dx":2,"fontSize":8},"encoding":{"text":{"field":"m"},"fill":{"value":"#1a1a1a"},"x":{"field":"c","type":"ordinal","bandPosition":0,"axis":null}}}]}
 ]},
{"encoding":{"x":{"field":"u","type":"quantitative","axis":null,"scale":{"domain":[0,1],"range":[383,552],"zero":false,"nice":false}},"y":{"field":"v","type":"quantitative","axis":null,"scale":{"domain":[0,1],"range":[110.8,279.8],"zero":false,"nice":false}}},
 "layer":[
  {"data":{"name":"sets"},"transform":[{"filter":"datum.s=='This work' || datum.s=='Picchi'"}],"mark":{"type":"point","filled":true,"angle":45,"size":14018,"stroke":"black","strokeWidth":1,"opacity":1,"fillOpacity":1,"blend":"multiply"},
   "encoding":{"shape":{"field":"s","type":"nominal","legend":null,"scale":{"domain":["This work","Picchi","de Lima","de Jesus"],"range":["M-1,0C-1,-0.3154,-0.5523,-0.571,0,-0.571C0.5523,-0.571,1,-0.3154,1,0C1,0.3154,0.5523,0.571,0,0.571C-0.5523,0.571,-1,0.3154,-1,0Z","M-1,0C-1,-0.2369,-0.5523,-0.429,0,-0.429C0.5523,-0.429,1,-0.2369,1,0C1,0.2369,0.5523,0.429,0,0.429C-0.5523,0.429,-1,0.2369,-1,0Z","M-1,0C-1,-0.2369,-0.5523,-0.429,0,-0.429C0.5523,-0.429,1,-0.2369,1,0C1,0.2369,0.5523,0.429,0,0.429C-0.5523,0.429,-1,0.2369,-1,0Z","M-1,0C-1,-0.3154,-0.5523,-0.571,0,-0.571C0.5523,-0.571,1,-0.3154,1,0C1,0.3154,0.5523,0.571,0,0.571C-0.5523,0.571,-1,0.3154,-1,0Z"]}},
    "fill":{"field":"s","type":"nominal","legend":null,"scale":{"domain":["This work","Picchi","de Lima","de Jesus"],"range":["#d9d9d9","#cacaca","#c0c0c0","#b0b0b0"]}}}},
  {"data":{"name":"sets"},"transform":[{"filter":"datum.s=='de Lima' || datum.s=='de Jesus'"}],"mark":{"type":"point","filled":true,"angle":-45,"size":14018,"stroke":"black","strokeWidth":1,"opacity":1,"fillOpacity":1,"blend":"multiply"},
   "encoding":{"shape":{"field":"s","type":"nominal","legend":null},"fill":{"field":"s","type":"nominal","legend":null}}},
  {"data":{"name":"linesA"},"mark":{"type":"rule","stroke":"#333333","strokeWidth":0.7},"encoding":{"x2":{"field":"u2"},"y2":{"field":"v2"}}},
  {"data":{"name":"nums"},"transform":[{"filter":"datum.k && length(datum.n) < 3"}],"mark":{"type":"point","shape":"circle","filled":false,"size":165,"stroke":"#333333","strokeWidth":0.8,"opacity":1}},
  {"data":{"name":"nums"},"transform":[{"filter":"datum.k && length(datum.n) == 3"}],"mark":{"type":"point","shape":"M-1,0C-1,-0.3756,-0.5523,-0.68,0,-0.68C0.5523,-0.68,1,-0.3756,1,0C1,0.3756,0.5523,0.68,0,0.68C-0.5523,0.68,-1,0.3756,-1,0Z","filled":false,"size":420,"stroke":"#333333","strokeWidth":0.8,"opacity":1}},
  {"data":{"name":"nums"},"mark":{"type":"text","fontSize":8,"fontWeight":"bold","align":"center","baseline":"middle","fill":"#111111"},"encoding":{"text":{"field":"n"}}},
  {"data":{"name":"titles"},"mark":{"type":"text","fontSize":7.5,"fontWeight":"bold","align":"right","baseline":"middle","fill":"#111111"},"encoding":{"x":{"field":"ua","type":"quantitative"},"text":{"field":"name"}}},
  {"data":{"name":"titles"},"transform":[{"filter":"datum.etal != ''"}],"mark":{"type":"text","fontSize":7.5,"fontWeight":"bold","fontStyle":"italic","align":"left","baseline":"middle","dx":2,"fill":"#111111"},"encoding":{"x":{"field":"ua","type":"quantitative"},"text":{"field":"etal"}}},
  {"data":{"name":"titles"},"transform":[{"filter":"datum.etal != ''"}],"mark":{"type":"text","fontSize":7.5,"fontWeight":"bold","align":"left","baseline":"middle","dx":21.5,"fill":"#111111"},"encoding":{"x":{"field":"ua","type":"quantitative"},"text":{"field":"year"}}},
  {"data":{"name":"titles"},"mark":{"type":"text","fontSize":7.5,"fontWeight":"bold","align":"center","baseline":"middle","fill":"#111111"},"encoding":{"x":{"field":"uc","type":"quantitative"},"y":{"field":"vc","type":"quantitative"},"text":{"field":"cnt"}}},
  {"data":{"values":[{"txt":"Intensity (log2)","u":1.598,"v":1.102}]},"mark":{"type":"text","angle":270,"fontSize":7.5,"align":"center","baseline":"middle","fill":"#111111"},"encoding":{"text":{"field":"txt"}}},
  {"data":{"values":[{"p":"a","u":-2.254,"v":-0.608}]},"mark":{"type":"text","fontSize":12,"fontWeight":"bold","align":"left","baseline":"middle","fill":"#000000"},"encoding":{"text":{"field":"p"}}}
 ]},
{"encoding":{"x":{"field":"u","type":"quantitative","axis":null,"scale":{"domain":[0,1],"range":[383,552],"zero":false,"nice":false}},"y":{"field":"v","type":"quantitative","axis":null,"scale":{"domain":[0,1],"range":[515.8,684.8],"zero":false,"nice":false}}},
 "layer":[
  {"data":{"name":"sets"},"transform":[{"filter":"datum.s=='This work' || datum.s=='Picchi'"}],"mark":{"type":"point","filled":true,"angle":45,"size":14018,"stroke":"black","strokeWidth":1,"opacity":1,"fillOpacity":1,"blend":"multiply"},
   "encoding":{"shape":{"field":"s","type":"nominal","legend":null,"scale":{"domain":["This work","Picchi","de Lima","de Jesus"],"range":["M-1,0C-1,-0.3154,-0.5523,-0.571,0,-0.571C0.5523,-0.571,1,-0.3154,1,0C1,0.3154,0.5523,0.571,0,0.571C-0.5523,0.571,-1,0.3154,-1,0Z","M-1,0C-1,-0.2369,-0.5523,-0.429,0,-0.429C0.5523,-0.429,1,-0.2369,1,0C1,0.2369,0.5523,0.429,0,0.429C-0.5523,0.429,-1,0.2369,-1,0Z","M-1,0C-1,-0.2369,-0.5523,-0.429,0,-0.429C0.5523,-0.429,1,-0.2369,1,0C1,0.2369,0.5523,0.429,0,0.429C-0.5523,0.429,-1,0.2369,-1,0Z","M-1,0C-1,-0.3154,-0.5523,-0.571,0,-0.571C0.5523,-0.571,1,-0.3154,1,0C1,0.3154,0.5523,0.571,0,0.571C-0.5523,0.571,-1,0.3154,-1,0Z"]}},
    "fill":{"field":"s","type":"nominal","legend":null,"scale":{"domain":["This work","Picchi","de Lima","de Jesus"],"range":["#d9d9d9","#cacaca","#c0c0c0","#b0b0b0"]}}}},
  {"data":{"name":"sets"},"transform":[{"filter":"datum.s=='de Lima' || datum.s=='de Jesus'"}],"mark":{"type":"point","filled":true,"angle":-45,"size":14018,"stroke":"black","strokeWidth":1,"opacity":1,"fillOpacity":1,"blend":"multiply"},
   "encoding":{"shape":{"field":"s","type":"nominal","legend":null},"fill":{"field":"s","type":"nominal","legend":null}}},
  {"data":{"name":"linesB"},"mark":{"type":"rule","stroke":"#333333","strokeWidth":0.7},"encoding":{"x2":{"field":"u2"},"y2":{"field":"v2"}}},
  {"data":{"name":"nums"},"transform":[{"filter":"datum.k && length(datum.n) < 3"}],"mark":{"type":"point","shape":"circle","filled":false,"size":165,"stroke":"#333333","strokeWidth":0.8,"opacity":1}},
  {"data":{"name":"nums"},"transform":[{"filter":"datum.k && length(datum.n) == 3"}],"mark":{"type":"point","shape":"M-1,0C-1,-0.3756,-0.5523,-0.68,0,-0.68C0.5523,-0.68,1,-0.3756,1,0C1,0.3756,0.5523,0.68,0,0.68C-0.5523,0.68,-1,0.3756,-1,0Z","filled":false,"size":420,"stroke":"#333333","strokeWidth":0.8,"opacity":1}},
  {"data":{"name":"nums"},"mark":{"type":"text","fontSize":8,"fontWeight":"bold","align":"center","baseline":"middle","fill":"#111111"},"encoding":{"text":{"field":"n"}}},
  {"data":{"name":"titles"},"mark":{"type":"text","fontSize":7.5,"fontWeight":"bold","align":"right","baseline":"middle","fill":"#111111"},"encoding":{"x":{"field":"ua","type":"quantitative"},"text":{"field":"name"}}},
  {"data":{"name":"titles"},"transform":[{"filter":"datum.etal != ''"}],"mark":{"type":"text","fontSize":7.5,"fontWeight":"bold","fontStyle":"italic","align":"left","baseline":"middle","dx":2,"fill":"#111111"},"encoding":{"x":{"field":"ua","type":"quantitative"},"text":{"field":"etal"}}},
  {"data":{"name":"titles"},"transform":[{"filter":"datum.etal != ''"}],"mark":{"type":"text","fontSize":7.5,"fontWeight":"bold","align":"left","baseline":"middle","dx":21.5,"fill":"#111111"},"encoding":{"x":{"field":"ua","type":"quantitative"},"text":{"field":"year"}}},
  {"data":{"name":"titles"},"mark":{"type":"text","fontSize":7.5,"fontWeight":"bold","align":"center","baseline":"middle","fill":"#111111"},"encoding":{"x":{"field":"uc","type":"quantitative"},"y":{"field":"vc","type":"quantitative"},"text":{"field":"cnt"}}},
  {"data":{"values":[{"txt":"Relative","u":1.58,"v":1.1195},{"txt":"abundance","u":1.627,"v":1.1195}]},"mark":{"type":"text","angle":270,"fontSize":7.5,"align":"center","baseline":"middle","fill":"#111111"},"encoding":{"text":{"field":"txt"}}},
  {"data":{"values":[{"p":"b","u":-2.254,"v":-0.68}]},"mark":{"type":"text","fontSize":12,"fontWeight":"bold","align":"left","baseline":"middle","fill":"#000000"},"encoding":{"text":{"field":"p"}}}
 ]}
],
"resolve":{"scale":{"x":"independent","y":"independent","fill":"independent"},"legend":{"fill":"independent"}}
}
